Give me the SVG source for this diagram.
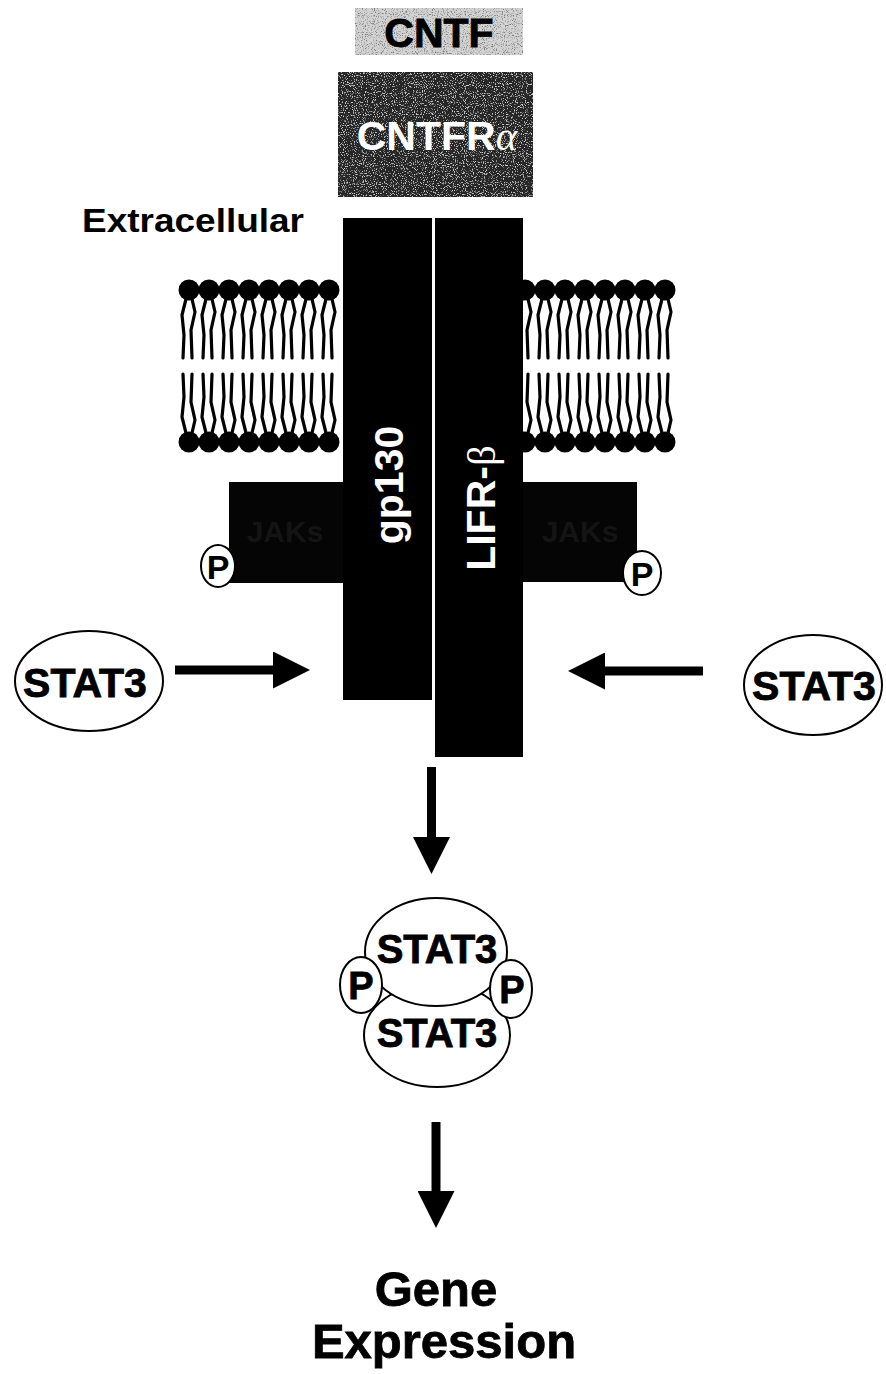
<svg xmlns="http://www.w3.org/2000/svg" xmlns:xlink="http://www.w3.org/1999/xlink" width="886" height="1374" viewBox="0 0 886 1374">
  <style>
    .lbl { font-family: "Liberation Sans", Arial, Helvetica, sans-serif; font-weight: bold; text-anchor: middle; }
    .blk { fill: #000; }
    .wht { fill: #fff; }
    .heavy { stroke: #000; stroke-width: 0.8; }
    .oval { fill: #fff; stroke: #000; stroke-width: 2; }
    .tail { fill: none; stroke: #000; stroke-width: 3.2; stroke-linecap: round; stroke-linejoin: round; }
    .shaft { stroke: #000; stroke-width: 9; fill: none; }
  </style>
  <defs>
    <!-- speckled print texture for the ligand and alpha-receptor blocks -->
    <filter id="grain" x="0" y="0" width="100%" height="100%">
      <feTurbulence type="fractalNoise" baseFrequency="0.9" numOctaves="2" seed="7" result="n"/>
      <feColorMatrix in="n" type="matrix" values="0 0 0 0 0.2  0 0 0 0 0.2  0 0 0 0 0.2  0 0 0 -4 2" result="dots"/>
      <feComposite in="dots" in2="SourceGraphic" operator="in" result="d2"/>
      <feMerge><feMergeNode in="SourceGraphic"/><feMergeNode in="d2"/></feMerge>
    </filter>
    <filter id="grainLight" x="0" y="0" width="100%" height="100%">
      <feTurbulence type="fractalNoise" baseFrequency="0.9" numOctaves="2" seed="3" result="n"/>
      <feColorMatrix in="n" type="matrix" values="0 0 0 0 0.6  0 0 0 0 0.6  0 0 0 0 0.6  0 0 0 -6 2.6" result="dots"/>
      <feComposite in="dots" in2="SourceGraphic" operator="in" result="d2"/>
      <feMerge><feMergeNode in="SourceGraphic"/><feMergeNode in="d2"/></feMerge>
    </filter>
    <!-- one phospholipid: head at origin, two kinked tails hanging down -->
    <g id="lipid">
      <path class="tail" d="M-3,9 L-7,25 L-5,45 L-6,68"/>
      <path class="tail" d="M3,9 L6,22 L2,40 L3,68"/>
      <circle r="10.5" class="blk"/>
    </g>
    <g id="lipidPair">
      <use xlink:href="#lipid" y="290"/>
      <use xlink:href="#lipid" transform="translate(0,442) scale(1,-1)"/>
    </g>
    <marker id="head" viewBox="0 0 37 37" refX="1" refY="18.5" markerWidth="37" markerHeight="37" markerUnits="userSpaceOnUse" orient="auto">
      <path d="M0,0 L37,18.5 L0,37 Z" fill="#000"/>
    </marker>
  </defs>

  <rect width="886" height="1374" fill="#fff"/>

  <!-- ligand -->
  <g id="cntf">
    <rect x="355" y="8" width="168" height="47" fill="#d4d4d4" filter="url(#grain)"/>
    <text x="439" y="47" class="lbl blk heavy" font-size="41">CNTF</text>
  </g>

  <g id="cntfr-alpha">
    <rect x="338" y="72" width="195" height="125" fill="#262626" filter="url(#grainLight)"/>
    <text x="437" y="150" class="lbl wht" font-size="41">CNTFR<tspan font-family="'Liberation Serif', serif" font-style="italic" font-weight="normal">α</tspan></text>
  </g>

  <g id="extracellular-label">
    <text x="82" y="232" font-family="'Liberation Sans', Arial, sans-serif" font-weight="bold" font-size="33" textLength="222" lengthAdjust="spacingAndGlyphs" fill="#000">Extracellular</text>
  </g>

  <!-- lipid bilayer -->
  <g id="membrane">
    <use xlink:href="#lipidPair" x="189"/>
    <use xlink:href="#lipidPair" x="209"/>
    <use xlink:href="#lipidPair" x="229"/>
    <use xlink:href="#lipidPair" x="249"/>
    <use xlink:href="#lipidPair" x="269"/>
    <use xlink:href="#lipidPair" x="289"/>
    <use xlink:href="#lipidPair" x="309"/>
    <use xlink:href="#lipidPair" x="329"/>
    <use xlink:href="#lipidPair" x="525"/>
    <use xlink:href="#lipidPair" x="545"/>
    <use xlink:href="#lipidPair" x="565"/>
    <use xlink:href="#lipidPair" x="585"/>
    <use xlink:href="#lipidPair" x="605"/>
    <use xlink:href="#lipidPair" x="625"/>
    <use xlink:href="#lipidPair" x="645"/>
    <use xlink:href="#lipidPair" x="665"/>
  </g>

  <!-- kinases -->
  <g id="jak-left">
    <rect x="229" y="482" width="116" height="101" fill="#050505"/>
    <text x="285" y="542" class="lbl" font-size="30" fill="#141414">JAKs</text>
    <ellipse cx="218" cy="566" rx="17" ry="21" class="oval"/>
    <text x="218" y="579" class="lbl blk" font-size="34">P</text>
  </g>
  <g id="jak-right">
    <rect x="522" y="482" width="115" height="100" fill="#050505"/>
    <text x="580" y="542" class="lbl" font-size="30" fill="#141414">JAKs</text>
    <ellipse cx="642" cy="573" rx="19" ry="22" class="oval"/>
    <text x="642" y="586" class="lbl blk" font-size="34">P</text>
  </g>

  <!-- receptor chains -->
  <g id="gp130">
    <rect x="343" y="218" width="89" height="482" class="blk"/>
    <text transform="translate(403,485) rotate(-90)" class="lbl wht" font-size="41">gp130</text>
  </g>
  <g id="lifr-beta">
    <rect x="435" y="218" width="88" height="539" class="blk"/>
    <text transform="translate(495,508) rotate(-90)" class="lbl wht" font-size="41">LIFR-<tspan font-family="'Liberation Serif', serif" font-weight="normal">β</tspan></text>
  </g>

  <!-- cytoplasmic STAT3 monomers -->
  <g id="stat3-left">
    <ellipse cx="89" cy="681" rx="74" ry="50" class="oval"/>
    <text x="85" y="697" class="lbl blk heavy" font-size="41">STAT3</text>
  </g>
  <g id="stat3-right">
    <ellipse cx="813" cy="685" rx="69" ry="50" class="oval"/>
    <text x="814" y="700" class="lbl blk heavy" font-size="41">STAT3</text>
  </g>

  <!-- phosphorylated STAT3 dimer -->
  <g id="stat3-dimer">
    <ellipse cx="437" cy="1035" rx="73" ry="52" class="oval"/>
    <ellipse cx="436" cy="952" rx="71" ry="54" class="oval"/>
    <ellipse cx="361" cy="985" rx="21" ry="28" class="oval"/>
    <ellipse cx="511" cy="989" rx="21" ry="29" class="oval"/>
    <text x="437" y="963" class="lbl blk heavy" font-size="40">STAT3</text>
    <text x="437" y="1047" class="lbl blk heavy" font-size="40">STAT3</text>
    <text x="361" y="999" class="lbl blk heavy" font-size="38">P</text>
    <text x="512" y="1003" class="lbl blk heavy" font-size="38">P</text>
  </g>

  <g id="gene-expression">
    <text x="436" y="1306" class="lbl blk heavy" font-size="49">Gene</text>
    <text x="444" y="1358" class="lbl blk heavy" font-size="49">Expression</text>
  </g>

  <!-- arrows -->
  <g id="connectors">
    <line x1="175" y1="670" x2="274" y2="670" class="shaft" marker-end="url(#head)"/>
    <line x1="703" y1="671" x2="604" y2="671" class="shaft" marker-end="url(#head)"/>
    <line x1="431.5" y1="767" x2="431.5" y2="838" class="shaft" marker-end="url(#head)"/>
    <line x1="436" y1="1122" x2="436" y2="1192" class="shaft" marker-end="url(#head)"/>
  </g>
</svg>
